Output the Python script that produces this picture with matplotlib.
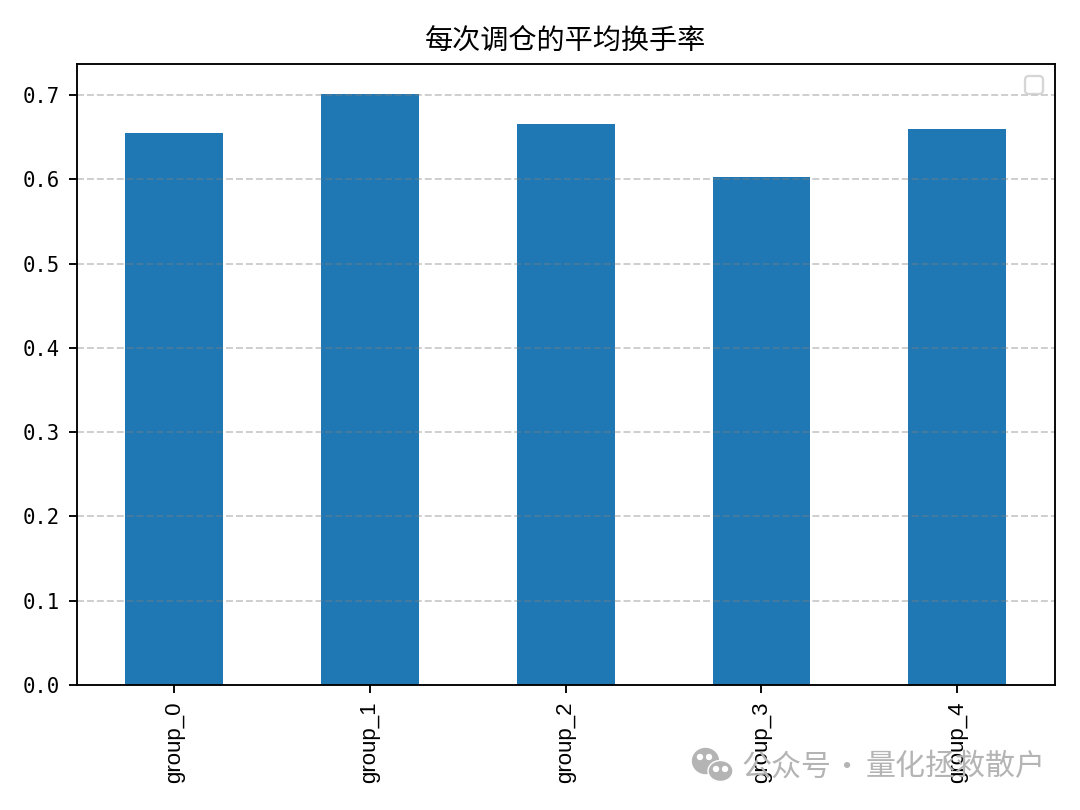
import matplotlib
matplotlib.use('Agg')
import matplotlib.pyplot as plt
from matplotlib.patches import Ellipse

plt.rcParams['font.family'] = ['Noto Sans CJK SC', 'DejaVu Sans']
plt.rcParams['axes.unicode_minus'] = False

groups = ['group_0', 'group_1', 'group_2', 'group_3', 'group_4']
turnover = [0.6548, 0.7016, 0.6655, 0.6026, 0.6595]
title = '每次调仓的平均换手率'
watermark_parts = ['公众号', '·', '量化拯救散户']
watermark_x = [741, 831, 866]

fig = plt.figure(figsize=(6.4, 4.8), dpi=168.75)
ax = fig.add_axes([76.5 / 1080, 1 - 685 / 810, (1055 - 76.5) / 1080, (685 - 64) / 810])

ax.bar(range(len(groups)), turnover, width=0.5, color='#1f77b4')
ax.set_xlim(-0.5, 4.5)
ax.set_ylim(0, 0.7367)
ax.set_xticks(range(len(groups)))
ax.set_xticklabels(groups, rotation=90, fontsize=9.5, family='Liberation Sans')
ax.set_title(title, fontsize=12)
ax.grid(axis='y', linestyle='--', alpha=0.4, color='#808080')

# tick digits are half width in the original font
for lab in ax.get_yticklabels():
    lab.set_family('DejaVu Sans Mono')
    lab.set_fontsize(8.8)

# empty legend box, top right
ax.legend(handles=[], loc='upper right')

# watermark goes over everything
for part, x in zip(watermark_parts, watermark_x):
    fig.text(x / 1080, 1 - 767 / 810, part, fontsize=12.8, color='#b4b4b4',
             va='center', ha='left', zorder=10)
icon = '#b4b4b4'
fig.add_artist(Ellipse((705.5 / 1080, 1 - 761 / 810), 25 / 1080, 24 / 810, color=icon, zorder=10))
fig.add_artist(Ellipse((720.5 / 1080, 1 - 771 / 810), 25 / 1080, 21 / 810, fc=icon, ec='white', lw=0.6, zorder=11))
for x, y in [(700, 757), (709, 757), (716, 769), (725, 769)]:
    fig.add_artist(Ellipse((x / 1080, 1 - y / 810), 4 / 1080, 4 / 810, color='white', zorder=12))

plt.savefig('out.png')
